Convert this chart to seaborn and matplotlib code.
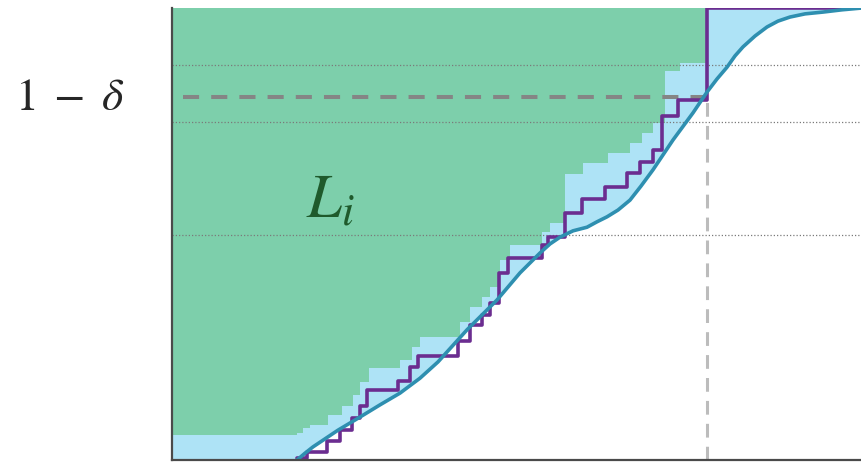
import numpy as np
import matplotlib
matplotlib.use("Agg")
import matplotlib.pyplot as plt
import seaborn as sns

# smooth CDF (teal)
cdf_x = [125, 133, 141, 166, 188, 208, 228, 248, 266, 295, 325, 348, 368, 378,
         388, 401, 415, 425, 435, 446, 458, 469, 481, 501, 521, 535, 545, 555,
         563, 571, 583, 595, 606, 618, 633, 651, 670, 690]
cdf_y = [0.0, 0.015, 0.029, 0.066, 0.095, 0.122, 0.148, 0.181, 0.217, 0.288,
         0.354, 0.414, 0.458, 0.478, 0.493, 0.507, 0.515, 0.527, 0.538, 0.553,
         0.575, 0.606, 0.642, 0.708, 0.768, 0.814, 0.843, 0.869, 0.894, 0.914,
         0.938, 0.958, 0.971, 0.980, 0.987, 0.991, 0.996, 1.0]

# empirical step CDF (purple)
ecdf_x = [125, 125, 135, 155, 168, 180, 188, 195, 226, 238, 246, 286, 298, 310,
          318, 327, 336, 370, 376, 393, 410, 433, 455, 468, 481, 490, 506, 535, 690]
ecdf_y = [0.0, 0.007, 0.018, 0.042, 0.066, 0.093, 0.119, 0.155, 0.175, 0.206,
          0.229, 0.263, 0.299, 0.321, 0.347, 0.414, 0.447, 0.476, 0.493, 0.546,
          0.577, 0.604, 0.635, 0.659, 0.686, 0.761, 0.796, 1.0, 1.0]

# upper band (boundary between green and light blue)
band_x = [0, 125, 131, 138, 156, 170, 181, 188, 197, 228, 240, 248, 288, 298,
          310, 318, 328, 338, 370, 378, 393, 411, 436, 458, 470, 481, 493, 508,
          535.5, 690]
band_y = [0.055, 0.060, 0.071, 0.077, 0.100, 0.119, 0.144, 0.173, 0.203, 0.221,
          0.251, 0.273, 0.306, 0.339, 0.361, 0.383, 0.442, 0.476, 0.505, 0.524,
          0.633, 0.658, 0.679, 0.702, 0.723, 0.745, 0.861, 0.879, 1.0, 1.0]

dotted_levels = [0.873, 0.748, 0.497]
level_1md = 0.803
x_cut = 535.5

green = "#7dcfab"
light_blue = "#aee3f6"
teal = "#2e8fb0"
purple = "#6b2d90"

sns.set_style("white")
fig = plt.figure(figsize=(8.62, 4.62), dpi=100)
ax = fig.add_axes([172 / 862, 2 / 462, 690 / 862, 452 / 462])

bx = np.array(band_x)
by = np.array(band_y)
ax.fill_between(bx, 0, by, step="post", color=light_blue, lw=0, zorder=1)
ax.fill_between(cdf_x, 0, cdf_y, color="white", lw=0, zorder=2)
ax.fill_between(bx, by, 1, step="post", color=green, lw=0, zorder=3)

for lv in dotted_levels:
    ax.axhline(lv, color="#7a7a7a", lw=0.9, ls=(0, (1, 1.6)), zorder=4)

ax.plot([11, x_cut], [level_1md, level_1md], color="#858585", lw=2.9,
        ls=(0, (4, 3)), zorder=5, solid_capstyle="butt")
ax.plot([x_cut, x_cut], [0, level_1md], color="#bcbcbc", lw=2.2,
        ls=(0, (4.5, 3)), zorder=5)

sns.lineplot(x=ecdf_x, y=ecdf_y, drawstyle="steps-post", color=purple, lw=2.6,
             sort=False, ax=ax, zorder=6)
sns.lineplot(x=cdf_x, y=cdf_y, color=teal, lw=2.6, sort=False, ax=ax, zorder=7)

ax.text(158, 0.575, r"$L_i$", fontsize=45, color="#1f5a2c", ha="center",
        va="center", zorder=8, math_fontfamily="stix")
fig.text(15 / 862, 1 - 97 / 462, r"$1\;-\;\delta$", fontsize=33, ha="left",
         va="center", math_fontfamily="stix")

ax.set_xlim(0, 690)
ax.set_ylim(0, 1)
ax.set_xticks([])
ax.set_yticks([])
sns.despine(ax=ax, top=True, right=True)
for s in ("left", "bottom"):
    ax.spines[s].set_color("#4a4a4a")
    ax.spines[s].set_linewidth(1.6)
    ax.spines[s].set_zorder(9)

fig.savefig("out.png", dpi=100)
